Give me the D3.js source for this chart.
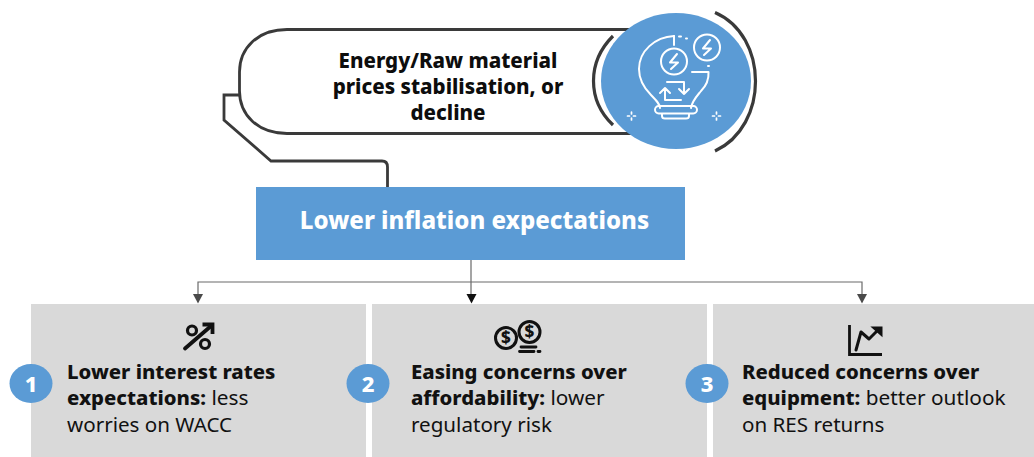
<!DOCTYPE html>
<html><head><meta charset="utf-8">
<script src="https://cdn.jsdelivr.net/npm/d3@7/dist/d3.min.js"></script>
<style>html,body{margin:0;padding:0;background:#fff;overflow:hidden}svg{display:block}text{font-family:"Noto Sans",sans-serif}</style>
</head><body><svg id="c" width="1034" height="457"></svg>
<script>
const cardNumbers = ["1","2","3"];
const cardBoldLines = [["Lower interest rates","expectations:"],["Easing concerns over","affordability:"],["Reduced concerns over","equipment:"]];
const cardTailLines = [[" less","worries on WACC"],[" lower","regulatory risk"],[" better outlook","on RES returns"]];
const driverLines = ["Energy/Raw material","prices stabilisation, or","decline"];
const headline = ["Lower inflation expectations"];

const blue="#5b9bd5", grey="#d9d9d9", dark="#3a3a3a";
const svg=d3.select("#c");
const x=d3.scaleBand().domain(cardNumbers).range([31,1048]).paddingInner(6/341);
const line=d3.scaleLinear().domain([0,1]).range([378.500,405]);
const topLine=d3.scaleLinear().domain([0,1]).range([68,94]);

svg.selectAll("rect.card").data(cardNumbers).join("rect").attr("class","card")
  .attr("x",d=>x(d)).attr("y",304).attr("width",x.bandwidth()).attr("height",153).attr("fill",grey);

svg.append("path").attr("d","M640 29.500H287C258 29.500 239.500 48 239.500 72V91C239.500 115 258 133.500 287 133.500H640")
  .attr("fill","#fff").attr("stroke",dark).attr("stroke-width",2.8);
svg.append("path").attr("d","M239 95H224V120L271 161H382Q387.500 161 387.500 167V187")
  .attr("fill","none").attr("stroke",dark).attr("stroke-width",2.8);

svg.append("ellipse").attr("cx",676).attr("cy",81).attr("rx",75).attr("ry",68).attr("fill",blue);
svg.append("path").attr("d","M613 36C587 62 587 100 613 125").attr("fill","none").attr("stroke",dark).attr("stroke-width",3.200);
svg.append("path").attr("d","M715 12.500C769 36 769 126 715 151").attr("fill","none").attr("stroke",dark).attr("stroke-width",3.200);

const ic=svg.append("g").attr("fill","none").attr("stroke","#fff").attr("stroke-width",2).attr("stroke-linecap","round").attr("stroke-linejoin","round");
ic.append("path").attr("d","M674 36C655 37 639 51 639 69C639 80 644 88 651 95C656 100 660 104 660 108M691 108C692 101 697 96 701 91C706 86 709 80 708.500 72H692");
ic.append("path").attr("d","M674 36V45");
ic.append("rect").attr("x",655).attr("y",106).attr("width",42).attr("height",7.500).attr("rx",3.700);
ic.append("path").attr("d","M662 114V116Q662 118.500 665 118.500H686Q689 118.500 689 116V114");
ic.append("circle").attr("cx",674).attr("cy",61.500).attr("r",13);
ic.append("circle").attr("cx",707).attr("cy",47.500).attr("r",13);
ic.append("path").attr("d","M677 54L670 62.500H678L671 69");
ic.append("path").attr("d","M710 40L703 48.500H711L704 55");
ic.append("path").attr("d","M667 82H684V94M679 89L684 94L689 89");
ic.append("path").attr("d","M681 100H665V88M660 93L665 88L670 93");
ic.append("path").attr("d","M679 36.500H681M686 38.500H687M708 66H709");
ic.selectAll("path.sp").data([631.500,716.500]).join("path").attr("class","sp").attr("stroke-width",1.700)
  .attr("d",d=>`M${d} 112V114M${d} 118V120M${d-4} 116H${d-2}M${d+2} 116H${d+4}`);

svg.selectAll("text.drv").data(driverLines).join("text").attr("class","drv")
  .attr("x",448).attr("y",(d,i)=>topLine(i)).attr("text-anchor","middle")
  .attr("font-size",20.500).attr("font-weight",800).attr("fill","#0d0d0d").text(d=>d);

svg.append("rect").attr("x",256).attr("y",187).attr("width",429).attr("height",73).attr("fill",blue);
svg.selectAll("text.hd").data(headline).join("text").attr("class","hd")
  .attr("x",474.500).attr("y",229).attr("text-anchor","middle")
  .attr("font-size",24).attr("font-weight",800).attr("fill","#fff").text(d=>d);

const arrowX=d3.scalePoint().domain(cardNumbers).range([198,862]).padding(0);
svg.append("path").attr("d","M198 295V282H862V295M471 260V295").attr("fill","none").attr("stroke","#6a6a6a").attr("stroke-width",1.200);
svg.selectAll("path.head").data(cardNumbers).join("path").attr("class","head")
  .attr("d",(d,i)=>{const a=i==1?471.500:arrowX(d);return `M${a-5} 294H${a+5}L${a} 303.500Z`;})
  .attr("fill",(d,i)=>i==1?"#111":"#4a4a4a");

const ik=svg.append("g").attr("fill","none").attr("stroke","#111").attr("stroke-linecap","round");
ik.append("path").attr("d","M185 348.500L211 326").attr("stroke-width",3.800);
ik.append("path").attr("d","M202.500 324.500H212.500V334").attr("stroke-width",3.800).attr("stroke-linejoin","miter").attr("stroke-linecap","butt");
ik.append("circle").attr("cx",192).attr("cy",330.500).attr("r",4.500).attr("stroke-width",3.200);
ik.append("circle").attr("cx",205).attr("cy",344).attr("r",4.500).attr("stroke-width",3.200);
ik.append("circle").attr("cx",506).attr("cy",338).attr("r",10.500).attr("stroke-width",3).attr("fill",grey);
ik.append("circle").attr("cx",529.500).attr("cy",332).attr("r",10.500).attr("stroke-width",3).attr("fill",grey);
svg.selectAll("text.dollar").data([[506,344],[529.500,338]]).join("text").attr("class","dollar")
  .attr("x",d=>d[0]).attr("y",d=>d[1]).attr("text-anchor","middle").attr("font-size",17).attr("font-weight",800).attr("fill","#111").text("$");
ik.append("path").attr("d","M521 347H536M519.500 351.500H534M538 351.500H540").attr("stroke-width",2.800);
ik.append("path").attr("d","M849.500 325V354.500H882").attr("stroke-width",2.800).attr("stroke-linecap","butt");
ik.append("path").attr("d","M856 350L861 332L869 339L879 329").attr("stroke-width",3).attr("stroke-linejoin","round");
ik.append("path").attr("d","M873 327.500H881.500V335Z").attr("fill","#111").attr("stroke-width",2);

const badgeX=d3.scaleOrdinal().domain(cardNumbers).range([31,368,707]);
const textX=d3.scaleOrdinal().domain(cardNumbers).range([67,411,742]);
svg.selectAll("ellipse.b").data(cardNumbers).join("ellipse").attr("class","b")
  .attr("cx",d=>badgeX(d)).attr("cy",383.500).attr("rx",21.500).attr("ry",19.500).attr("fill",blue);
svg.selectAll("text.bn").data(cardNumbers).join("text").attr("class","bn")
  .attr("x",d=>badgeX(d)).attr("y",391.500).attr("text-anchor","middle").attr("font-size",22).attr("font-weight",800).attr("fill","#fff").text(d=>d);

cardNumbers.forEach((n,k)=>{
  const t=svg.append("g").attr("font-size",20.300).attr("fill","#111");
  t.append("text").attr("x",textX(n)).attr("y",line(0)).attr("font-weight",800).text(cardBoldLines[k][0]);
  const l2=t.append("text").attr("x",textX(n)).attr("y",line(1)).style("white-space","pre");
  l2.append("tspan").attr("font-weight",800).text(cardBoldLines[k][1]);
  l2.append("tspan").attr("font-size",20.800).text(cardTailLines[k][0]);
  t.append("text").attr("x",textX(n)).attr("y",line(2)).attr("font-size",20.600).text(cardTailLines[k][1]);
});
</script></body></html>
